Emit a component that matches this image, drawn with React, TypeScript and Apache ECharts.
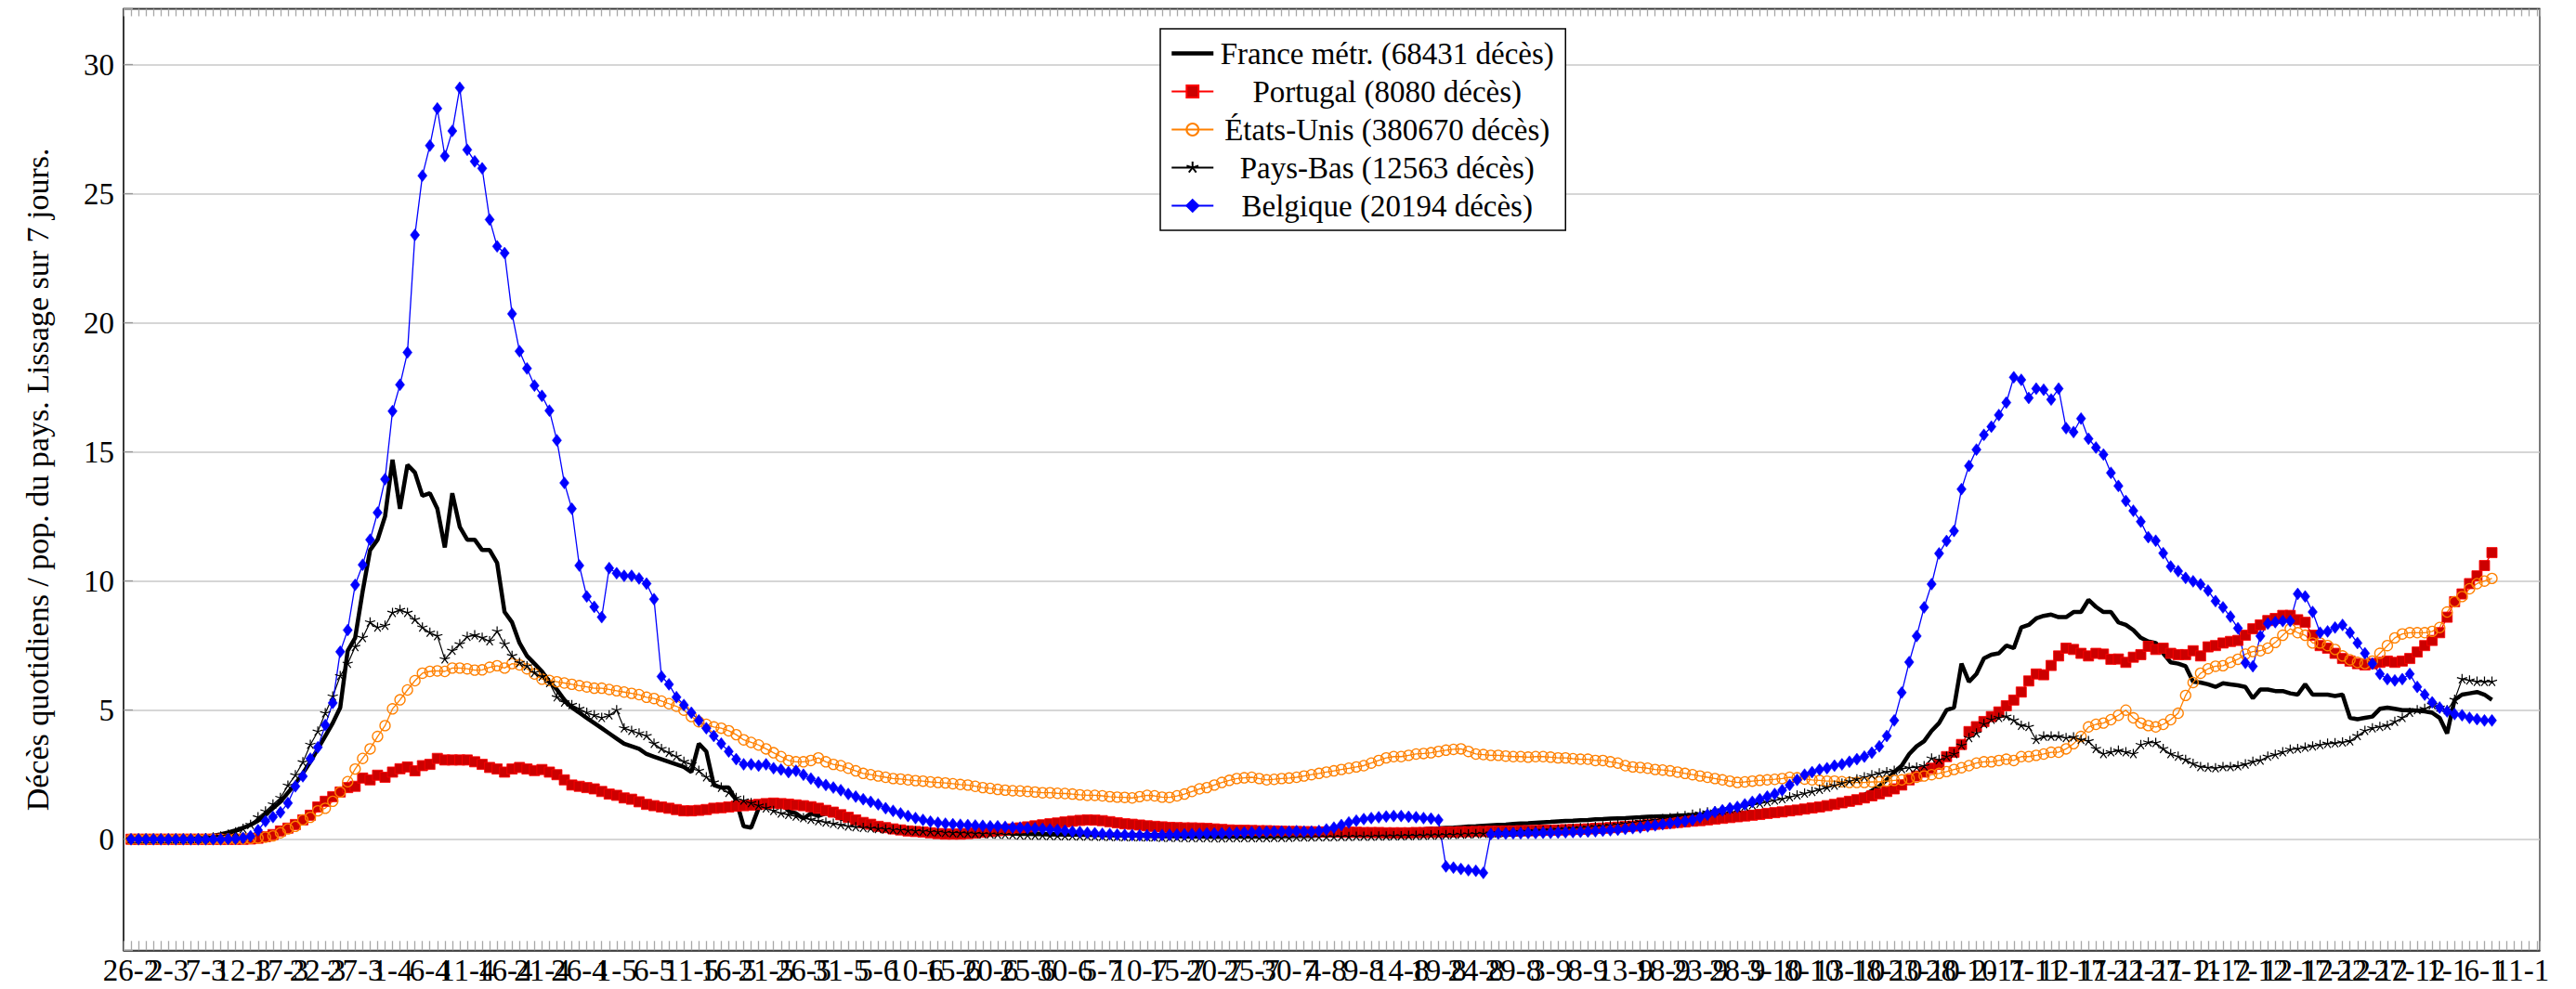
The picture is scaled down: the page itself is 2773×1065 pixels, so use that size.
import { useEffect, useRef } from "react";
import * as echarts from "echarts";

const FONT = "'Liberation Serif', 'Times New Roman', serif";

const tickLabels = [
  "26-2", "2-3", "7-3", "12-3", "17-3", "22-3", "27-3", "1-4", "6-4", "11-4", "16-4", "21-4", "26-4",
  "1-5", "6-5", "11-5", "16-5", "21-5", "26-5", "31-5", "5-6", "10-6", "15-6", "20-6", "25-6", "30-6",
  "5-7", "10-7", "15-7", "20-7", "25-7", "30-7", "4-8", "9-8", "14-8", "19-8", "24-8", "29-8",
  "3-9", "8-9", "13-9", "18-9", "23-9", "28-9", "3-10", "8-10", "13-10", "18-10", "23-10", "28-10",
  "2-11", "7-11", "12-11", "17-11", "22-11", "27-11", "2-12", "7-12", "12-12", "17-12", "22-12", "27-12",
  "1-1", "6-1", "11-1",
];

const seriesNames = [
  "France métr. (68431 décès)",
  "Portugal (8080 décès)",
  "États-Unis (380670 décès)",
  "Pays-Bas (12563 décès)",
  "Belgique (20194 décès)",
];

const france = [
  0, 0, 0, 0, 0.01, 0.01, 0.02, 0.03, 0.05, 0.07,
  0.1, 0.14, 0.19, 0.26, 0.34, 0.44, 0.56, 0.72, 0.95, 1.2,
  1.45, 1.8, 2.15, 2.55, 3.0, 3.5, 4.0, 4.5, 5.1, 7.3,
  7.8, 9.6, 11.2, 11.6, 12.5, 14.7, 12.8, 14.5, 14.2, 13.3,
  13.4, 12.8, 11.3, 13.4, 12.1, 11.6, 11.6, 11.2, 11.2, 10.7,
  8.8, 8.4, 7.6, 7.1, 6.8, 6.5, 6.1, 5.8, 5.4, 5.1,
  4.9, 4.7, 4.5, 4.3, 4.1, 3.9, 3.7, 3.6, 3.5, 3.3,
  3.2, 3.1, 3.0, 2.9, 2.8, 2.6, 3.7, 3.4, 2.1, 2.0,
  2.0, 1.5, 0.5, 0.45, 1.2, 1.4, 1.35, 1.4, 1.1, 1.0,
  0.8, 1.0, 0.9, 1.0, 0.95, 0.8, 0.75, 0.7, 0.65, 0.6,
  0.55, 0.5, 0.48, 0.45, 0.42, 0.4, 0.37, 0.35, 0.33, 0.32,
  0.3, 0.29, 0.3, 0.28, 0.27, 0.26, 0.25, 0.25, 0.24, 0.23,
  0.22, 0.22, 0.21, 0.2, 0.2, 0.19, 0.2, 0.19, 0.18, 0.19,
  0.18, 0.17, 0.18, 0.17, 0.17, 0.16, 0.17, 0.16, 0.16, 0.17,
  0.16, 0.15, 0.16, 0.15, 0.16, 0.15, 0.15, 0.16, 0.17, 0.16,
  0.17, 0.18, 0.18, 0.19, 0.2, 0.2, 0.21, 0.22, 0.23, 0.24,
  0.25, 0.26, 0.27, 0.28, 0.28, 0.29, 0.3, 0.31, 0.32, 0.33,
  0.35, 0.36, 0.38, 0.39, 0.41, 0.42, 0.44, 0.45, 0.47, 0.49,
  0.5, 0.52, 0.54, 0.56, 0.57, 0.59, 0.61, 0.62, 0.64, 0.66,
  0.67, 0.69, 0.71, 0.72, 0.74, 0.75, 0.77, 0.78, 0.8, 0.81,
  0.82, 0.84, 0.85, 0.87, 0.88, 0.89, 0.9, 0.92, 0.93, 0.94,
  0.95, 0.96, 0.98, 0.99, 1.0, 1.02, 1.03, 1.05, 1.07, 1.09,
  1.1, 1.12, 1.14, 1.16, 1.19, 1.22, 1.26, 1.3, 1.36, 1.42,
  1.5, 1.6, 1.72, 1.88, 2.05, 2.3, 2.6, 2.85, 3.3, 3.6,
  3.8, 4.2, 4.5, 5.0, 5.1, 6.8, 6.1, 6.4, 7.0, 7.15,
  7.2, 7.5, 7.4, 8.2, 8.3, 8.55, 8.65, 8.7, 8.6, 8.6,
  8.8, 8.8, 9.27, 9.0, 8.8, 8.8, 8.4, 8.3, 8.1, 7.8,
  7.66, 7.6, 7.2, 6.85, 6.8, 6.7, 6.1, 6.07, 6.0, 5.9,
  6.04, 6.0, 5.96, 5.9, 5.46, 5.8, 5.8, 5.74, 5.74, 5.65,
  5.6, 6.0, 5.6, 5.6, 5.6, 5.55, 5.6, 4.7, 4.65, 4.7,
  4.75, 5.05, 5.1, 5.05, 5.0, 5.0, 4.98, 4.95, 4.9, 4.7,
  4.1, 5.4, 5.6, 5.65, 5.7, 5.6, 5.4,
];

const portugal = [
  0, 0, 0, 0, 0, 0, 0, 0, 0, 0,
  0, 0, 0, 0, 0, 0, 0.01, 0.04, 0.1, 0.18,
  0.32, 0.43, 0.57, 0.75, 0.93, 1.25, 1.47, 1.65, 1.83, 2.0,
  2.05, 2.37, 2.3, 2.48, 2.4, 2.6, 2.73, 2.8, 2.65, 2.85,
  2.9, 3.13, 3.07, 3.07, 3.07, 3.07, 3.0, 2.9, 2.78, 2.72,
  2.6, 2.72, 2.78, 2.72, 2.66, 2.7, 2.6, 2.5, 2.3, 2.1,
  2.05, 2.0, 1.95, 1.85, 1.75, 1.7, 1.6, 1.55, 1.45, 1.35,
  1.3, 1.25, 1.2, 1.15, 1.1, 1.1, 1.12, 1.15, 1.2, 1.22,
  1.25, 1.28, 1.3, 1.32, 1.35, 1.38, 1.4, 1.38, 1.36, 1.33,
  1.3, 1.26, 1.2, 1.12, 1.05, 0.95, 0.85, 0.75, 0.65, 0.58,
  0.5, 0.45, 0.4, 0.36, 0.32, 0.3, 0.28, 0.25, 0.22, 0.2,
  0.2, 0.2, 0.22, 0.24, 0.27, 0.3, 0.33, 0.36, 0.4, 0.44,
  0.48, 0.52, 0.56, 0.6, 0.63, 0.67, 0.7, 0.73, 0.75, 0.74,
  0.72, 0.68, 0.64, 0.6, 0.58, 0.55, 0.52, 0.5, 0.48, 0.46,
  0.45, 0.44, 0.44, 0.43, 0.42, 0.4, 0.38, 0.36, 0.35, 0.35,
  0.34, 0.33, 0.33, 0.32, 0.31, 0.3, 0.3, 0.29, 0.29, 0.28,
  0.28, 0.28, 0.27, 0.27, 0.27, 0.26, 0.26, 0.26, 0.25, 0.25,
  0.25, 0.25, 0.26, 0.26, 0.27, 0.27, 0.28, 0.28, 0.29, 0.29,
  0.3, 0.3, 0.31, 0.31, 0.32, 0.32, 0.33, 0.33, 0.34, 0.35,
  0.35, 0.36, 0.37, 0.38, 0.39, 0.4, 0.42, 0.43, 0.45, 0.47,
  0.49, 0.51, 0.53, 0.56, 0.58, 0.6, 0.62, 0.65, 0.67, 0.7,
  0.72, 0.75, 0.78, 0.81, 0.84, 0.87, 0.9, 0.93, 0.96, 1.0,
  1.03, 1.06, 1.1, 1.13, 1.17, 1.21, 1.25, 1.3, 1.35, 1.41,
  1.47, 1.53, 1.6, 1.68, 1.76, 1.85, 1.95, 2.1, 2.3, 2.45,
  2.6, 2.75, 2.9, 3.2, 3.37, 3.67, 4.17, 4.36, 4.56, 4.75,
  4.93, 5.17, 5.39, 5.7, 6.13, 6.4, 6.37, 6.73, 7.1, 7.4,
  7.35, 7.2, 7.1, 7.2, 7.17, 6.97, 6.98, 6.85, 7.05, 7.15,
  7.47, 7.35, 7.4, 7.2, 7.15, 7.15, 7.3, 7.1, 7.45, 7.5,
  7.6, 7.66, 7.7, 7.9, 8.15, 8.3, 8.47, 8.55, 8.67, 8.67,
  8.5, 8.4, 7.9, 7.5, 7.4, 7.2, 7.0, 6.9, 6.8, 6.75,
  6.8, 6.85, 6.9, 6.85, 6.9, 7.0, 7.25, 7.5, 7.7, 8.0,
  8.6, 9.2, 9.5, 9.9, 10.2, 10.6, 11.1,
];

const etatsUnis = [
  0, 0, 0, 0, 0, 0, 0, 0, 0, 0,
  0, 0, 0, 0.01, 0.01, 0.02, 0.03, 0.05, 0.08, 0.13,
  0.25, 0.4, 0.5, 0.75, 0.85, 1.1, 1.2, 1.47, 1.83, 2.23,
  2.72, 3.13, 3.5, 3.98, 4.4, 5.05, 5.4, 5.78, 6.14, 6.43,
  6.5, 6.52, 6.5, 6.63, 6.63, 6.6, 6.55, 6.56, 6.66, 6.72,
  6.63, 6.8, 6.75, 6.6, 6.4, 6.2, 6.15, 6.1, 6.05, 6.0,
  5.95, 5.9, 5.85, 5.85, 5.8, 5.75, 5.7, 5.65, 5.6, 5.5,
  5.45, 5.35, 5.25, 5.15, 5.0, 4.75, 4.55, 4.45, 4.35, 4.3,
  4.2, 4.05, 3.85, 3.75, 3.65, 3.5, 3.35, 3.2, 3.05, 3.0,
  3.0, 3.05, 3.15, 3.0, 2.9, 2.85, 2.75, 2.65, 2.55, 2.5,
  2.45, 2.4, 2.35, 2.33, 2.3, 2.27, 2.25, 2.22, 2.2, 2.18,
  2.15, 2.12, 2.1, 2.05, 2.0, 1.97, 1.93, 1.9, 1.88, 1.87,
  1.85, 1.83, 1.8, 1.8, 1.78, 1.77, 1.75, 1.72, 1.7, 1.7,
  1.68, 1.65, 1.63, 1.62, 1.6, 1.65, 1.7, 1.68, 1.63, 1.62,
  1.68, 1.75, 1.85, 1.95, 2.0, 2.1, 2.2, 2.28, 2.35, 2.38,
  2.4, 2.35, 2.3, 2.32, 2.35, 2.37, 2.4, 2.45, 2.5, 2.55,
  2.6, 2.65, 2.7, 2.75, 2.8, 2.85, 2.95, 3.05, 3.15, 3.2,
  3.2, 3.25, 3.3, 3.32, 3.35, 3.4, 3.45, 3.48, 3.5, 3.4,
  3.3, 3.28, 3.25, 3.25, 3.22, 3.2, 3.2, 3.18, 3.2, 3.2,
  3.18, 3.15, 3.15, 3.12, 3.1, 3.1, 3.05, 3.05, 3.0, 2.95,
  2.85, 2.8, 2.78, 2.75, 2.7, 2.68, 2.65, 2.6, 2.55, 2.5,
  2.45, 2.4, 2.35, 2.3, 2.25, 2.2, 2.22, 2.25, 2.28, 2.3,
  2.32, 2.35, 2.4, 2.38, 2.33, 2.3, 2.28, 2.25, 2.25, 2.23,
  2.2, 2.2, 2.2, 2.22, 2.22, 2.25, 2.28, 2.3, 2.35, 2.4,
  2.45, 2.5, 2.55, 2.62, 2.7, 2.77, 2.85, 2.95, 3.0, 3.0,
  3.05, 3.1, 3.05, 3.2, 3.2, 3.25, 3.3, 3.37, 3.37, 3.5,
  3.7, 3.98, 4.35, 4.45, 4.5, 4.63, 4.8, 5.0, 4.7, 4.5,
  4.4, 4.35, 4.45, 4.63, 4.88, 5.57, 6.07, 6.43, 6.6, 6.7,
  6.72, 6.85, 6.97, 7.17, 7.27, 7.3, 7.4, 7.62, 7.9, 8.15,
  8.0, 7.9, 7.6, 7.6, 7.5, 7.35, 7.1, 6.95, 6.85, 6.8,
  6.9, 7.2, 7.5, 7.8, 7.95, 8.0, 8.0, 8.0, 8.05, 8.2,
  8.8, 9.2, 9.4, 9.7, 9.9, 10.0, 10.1,
];

const paysBas = [
  0, 0, 0, 0, 0, 0, 0, 0, 0.01, 0.02,
  0.04, 0.07, 0.11, 0.18, 0.27, 0.4, 0.56, 0.85, 1.08, 1.35,
  1.6, 2.08, 2.48, 2.98, 3.66, 4.17, 4.88, 5.53, 6.32, 6.8,
  7.45, 7.8, 8.4, 8.2, 8.27, 8.77, 8.88, 8.77, 8.5, 8.2,
  8.0, 7.87, 6.97, 7.3, 7.55, 7.84, 7.9, 7.8, 7.67, 8.05,
  7.55, 7.1, 6.83, 6.7, 6.45, 6.3, 6.05, 5.5, 5.3, 5.2,
  5.05, 4.9, 4.8, 4.7, 4.8, 5.0, 4.3, 4.2, 4.1, 4.0,
  3.7, 3.5, 3.35, 3.2, 3.0, 2.9, 2.65, 2.4, 2.2, 2.0,
  1.8, 1.6, 1.5, 1.4, 1.3, 1.2, 1.1, 1.0, 0.95, 0.88,
  0.82, 0.76, 0.7, 0.65, 0.6, 0.55, 0.5, 0.47, 0.44, 0.42,
  0.4, 0.38, 0.36, 0.35, 0.33, 0.31, 0.3, 0.28, 0.27, 0.25,
  0.24, 0.23, 0.22, 0.21, 0.2, 0.19, 0.18, 0.17, 0.16, 0.15,
  0.15, 0.14, 0.14, 0.13, 0.13, 0.12, 0.12, 0.11, 0.11, 0.1,
  0.1, 0.09, 0.09, 0.08, 0.08, 0.08, 0.07, 0.07, 0.06, 0.06,
  0.06, 0.05, 0.05, 0.05, 0.05, 0.04, 0.04, 0.05, 0.05, 0.05,
  0.05, 0.05, 0.05, 0.06, 0.06, 0.06, 0.07, 0.07, 0.07, 0.08,
  0.08, 0.08, 0.09, 0.09, 0.1, 0.1, 0.1, 0.11, 0.11, 0.12,
  0.12, 0.13, 0.13, 0.14, 0.15, 0.15, 0.16, 0.17, 0.18, 0.19,
  0.2, 0.21, 0.22, 0.23, 0.25, 0.26, 0.28, 0.29, 0.31, 0.33,
  0.35, 0.37, 0.39, 0.41, 0.43, 0.45, 0.48, 0.5, 0.53, 0.56,
  0.6, 0.63, 0.67, 0.7, 0.74, 0.78, 0.82, 0.86, 0.9, 0.95,
  1.0, 1.04, 1.08, 1.12, 1.17, 1.22, 1.27, 1.32, 1.38, 1.44,
  1.5, 1.56, 1.63, 1.7, 1.77, 1.84, 1.92, 2.0, 2.08, 2.16,
  2.24, 2.32, 2.4, 2.48, 2.55, 2.6, 2.65, 2.72, 2.77, 2.78,
  2.83, 3.13, 3.07, 3.2, 3.3, 3.63, 3.92, 4.1, 4.46, 4.63,
  4.7, 4.75, 4.6, 4.4, 4.35, 3.85, 3.98, 3.98, 3.98, 3.92,
  3.95, 3.85, 3.8, 3.5, 3.3, 3.37, 3.43, 3.37, 3.3, 3.65,
  3.75, 3.73, 3.5, 3.3, 3.2, 3.07, 2.92, 2.8, 2.77, 2.75,
  2.8, 2.8, 2.83, 2.9, 3.0, 3.05, 3.2, 3.27, 3.37, 3.47,
  3.5, 3.55, 3.6, 3.65, 3.7, 3.72, 3.75, 3.8, 4.0, 4.2,
  4.3, 4.35, 4.4, 4.55, 4.7, 4.9, 5.0, 5.05, 5.2, 5.1,
  5.0, 5.4, 6.2, 6.15, 6.1, 6.1, 6.1,
];

const belgique = [
  0, 0, 0, 0, 0, 0, 0, 0, 0, 0,
  0, 0, 0, 0.01, 0.02, 0.05, 0.12, 0.35, 0.7, 0.86,
  1.04, 1.4, 2.05, 2.44, 3.12, 3.56, 4.42, 5.28, 7.26, 8.1,
  9.85, 10.63, 11.6, 12.65, 13.94, 16.58, 17.6, 18.85, 23.4, 25.7,
  26.86, 28.3, 26.46, 27.43, 29.1, 26.7, 26.25, 25.98, 24.0, 22.96,
  22.7, 20.35, 18.9, 18.23, 17.57, 17.17, 16.6, 15.45, 13.8, 12.8,
  10.6, 9.4, 9.0, 8.6, 10.5, 10.3, 10.2, 10.2, 10.1, 9.9,
  9.3, 6.3, 6.0, 5.5, 5.2, 4.9, 4.6, 4.3, 4.0, 3.7,
  3.4, 3.1, 2.9, 2.9, 2.85, 2.9, 2.75, 2.7, 2.6, 2.65,
  2.5, 2.35, 2.2, 2.1, 2.0, 1.9, 1.75, 1.65, 1.55, 1.45,
  1.35, 1.2, 1.1, 1.0, 0.9, 0.82, 0.75, 0.68, 0.64, 0.6,
  0.58, 0.56, 0.55, 0.53, 0.52, 0.5, 0.5, 0.48, 0.46, 0.45,
  0.43, 0.42, 0.4, 0.38, 0.36, 0.33, 0.3, 0.28, 0.25, 0.23,
  0.21, 0.2, 0.18, 0.17, 0.16, 0.15, 0.15, 0.15, 0.16, 0.17,
  0.18, 0.19, 0.2, 0.21, 0.22, 0.22, 0.23, 0.24, 0.25, 0.26,
  0.27, 0.28, 0.29, 0.3, 0.3, 0.3, 0.31, 0.3, 0.3, 0.32,
  0.38, 0.45, 0.55, 0.65, 0.72, 0.78, 0.82, 0.85, 0.88, 0.9,
  0.9, 0.87, 0.85, 0.82, 0.8, 0.75, -1.05, -1.1, -1.15, -1.2,
  -1.22, -1.3, 0.2, 0.22, 0.22, 0.23, 0.23, 0.24, 0.24, 0.25,
  0.25, 0.26, 0.27, 0.28, 0.29, 0.3, 0.31, 0.33, 0.35, 0.37,
  0.4, 0.43, 0.46, 0.5, 0.54, 0.58, 0.62, 0.66, 0.7, 0.75,
  0.85, 0.95, 1.05, 1.12, 1.2, 1.25, 1.35, 1.45, 1.55, 1.65,
  1.75, 1.9, 2.1, 2.3, 2.5, 2.6, 2.7, 2.75, 2.85, 2.9,
  3.0, 3.1, 3.2, 3.35, 3.6, 4.0, 4.6, 5.68, 6.86, 7.87,
  8.98, 9.88, 11.07, 11.55, 11.94, 13.56, 14.46, 15.09, 15.66, 15.98,
  16.43, 16.91, 17.89, 17.79, 17.09, 17.45, 17.41, 17.03, 17.45, 15.92,
  15.77, 16.29, 15.51, 15.17, 14.9, 14.19, 13.68, 13.1, 12.72, 12.3,
  11.7, 11.56, 11.08, 10.56, 10.38, 10.12, 9.99, 9.87, 9.63, 9.22,
  8.98, 8.62, 8.17, 6.83, 6.7, 7.87, 8.35, 8.41, 8.45, 8.45,
  9.5, 9.4, 8.8, 8.0, 8.05, 8.2, 8.3, 8.0, 7.6, 7.2,
  6.8, 6.4, 6.2, 6.15, 6.2, 6.4, 5.9, 5.6, 5.3, 5.1,
  4.95, 4.85, 4.8, 4.7, 4.65, 4.6, 4.6,
];

const STAR =
  "path://M10,10L10,0M10,10L19.51,6.91M10,10L15.88,18.09M10,10L4.12,18.09M10,10L0.49,6.91M10,20L10,20";

const X_MIN = -1;
const X_MAX = 322.4;
const Y_MIN = -4.3;
const Y_MAX = 32.16;

export default function App() {
  const ref = useRef<HTMLDivElement>(null);

  useEffect(() => {
    if (!ref.current) return;
    const chart = echarts.init(ref.current, null, { renderer: "svg" });
    const toPts = (arr: number[]) => arr.map((v, i) => [i, v]);
    const xLabel = (v: number) => {
      const r = Math.round(v);
      if (Math.abs(v - r) > 1e-6 || r < 0 || r % 5 !== 0) return "";
      return tickLabels[r / 5] ?? "";
    };
    const yLabel = (v: number) => {
      const r = Math.round(v);
      if (Math.abs(v - r) > 1e-6 || r % 5 !== 0) return "";
      return String(r);
    };

    const common = {
      silent: true,
      showAllSymbol: true,
      emphasis: { disabled: true },
      animation: false,
    };

    chart.setOption({
      animation: false,
      backgroundColor: "#ffffff",
      grid: {
        left: 133,
        right: 39,
        top: 9.5,
        bottom: 41.7,
        show: true,
        borderColor: "#333333",
        borderWidth: 1.3,
        containLabel: false,
        outerBoundsMode: "none",
      },
      xAxis: [
        {
          type: "value",
          min: X_MIN,
          max: X_MAX,
          interval: 1,
          position: "bottom",
          axisLine: { show: true, onZero: false, lineStyle: { color: "#222222", width: 1.5 } },
          axisTick: { show: true, inside: true, length: 10, lineStyle: { color: "#a8a8a8", width: 1.3 } },
          axisLabel: {
            formatter: xLabel,
            fontFamily: FONT,
            fontSize: 33,
            color: "#000000",
            margin: 5,
            hideOverlap: false,
          },
          splitLine: { show: false },
        },
        {
          type: "value",
          min: X_MIN,
          max: X_MAX,
          interval: 1,
          position: "top",
          axisLine: { show: true, onZero: false, lineStyle: { color: "#333333", width: 1.3 } },
          axisTick: { show: true, inside: true, length: 8, lineStyle: { color: "#a8a8a8", width: 1.3 } },
          axisLabel: { show: false },
          splitLine: { show: false },
        },
      ],
      yAxis: {
        type: "value",
        min: Y_MIN,
        max: Y_MAX,
        splitNumber: 7,
        minInterval: 5,
        maxInterval: 5,
        name: "Décès quotidiens / pop. du pays. Lissage sur 7 jours.",
        nameLocation: "middle",
        nameGap: 76,
        nameTextStyle: { fontFamily: FONT, fontSize: 34, color: "#000000" },
        axisLine: { show: true, onZero: false, lineStyle: { color: "#222222", width: 1.5 } },
        axisTick: { show: true, inside: true, length: 10, lineStyle: { color: "#999999", width: 1.3 } },
        axisLabel: { formatter: yLabel, fontFamily: FONT, fontSize: 33, color: "#000000", margin: 10 },
        splitLine: { show: true, lineStyle: { color: "#c8c8c8", width: 1.5 } },
      },
      legend: {
        show: true,
        orient: "vertical",
        left: 1249,
        top: 31,
        padding: [10, 10, 10, 10],
        itemGap: 8,
        itemWidth: 45,
        itemHeight: 16,
        backgroundColor: "#ffffff",
        borderColor: "#000000",
        borderWidth: 1.5,
        borderRadius: 0,
        selectedMode: false,
        data: [
          {
            name: seriesNames[0],
            itemStyle: { color: "rgba(0,0,0,0)", borderWidth: 0, opacity: 0 },
            lineStyle: { color: "#000000", width: 4.5, opacity: 1 },
          },
          { name: seriesNames[1] },
          { name: seriesNames[2] },
          { name: seriesNames[3] },
          { name: seriesNames[4] },
        ],
        formatter: (n: string) => `{c|${n}}`,
        textStyle: {
          color: "#000000",
          fontFamily: FONT,
          fontSize: 33,
          rich: {
            c: {
              width: 364,
              align: "center",
              fontFamily: FONT,
              fontSize: 33,
              lineHeight: 32,
              color: "#000000",
            },
          },
        },
      },
      series: [
        {
          ...common,
          name: seriesNames[0],
          type: "line",
          data: toPts(france),
          symbol: "none",
          lineStyle: { color: "#000000", width: 4.5 },
          itemStyle: { color: "#000000" },
        },
        {
          ...common,
          name: seriesNames[1],
          type: "line",
          data: toPts(portugal),
          symbol: "rect",
          symbolSize: 11,
          lineStyle: { color: "#ff0000", width: 1.3 },
          itemStyle: { color: "#cc0000", borderColor: "#ff0000", borderWidth: 0.8 },
        },
        {
          ...common,
          name: seriesNames[2],
          type: "line",
          data: toPts(etatsUnis),
          symbol: "circle",
          symbolSize: 11,
          lineStyle: { color: "#ff8000", width: 1.3 },
          itemStyle: { color: "rgba(255,255,255,0)", borderColor: "#ff8000", borderWidth: 1.3 },
        },
        {
          ...common,
          name: seriesNames[3],
          type: "line",
          data: toPts(paysBas),
          symbol: STAR,
          symbolSize: 11,
          lineStyle: { color: "#000000", width: 1.2 },
          itemStyle: { color: "rgba(0,0,0,0)", borderColor: "#000000", borderWidth: 1.2 },
        },
        {
          ...common,
          name: seriesNames[4],
          type: "line",
          data: toPts(belgique),
          symbol: "diamond",
          symbolSize: [10, 13],
          lineStyle: { color: "#0000ff", width: 1.3 },
          itemStyle: { color: "#0000ff", borderColor: "#0000ff", borderWidth: 0.5 },
        },
      ],
    });

    return () => chart.dispose();
  }, []);

  return (
    <div
      ref={ref}
      style={{ position: "absolute", left: 0, top: 0, width: 2773, height: 1065, background: "#fff" }}
    />
  );
}
